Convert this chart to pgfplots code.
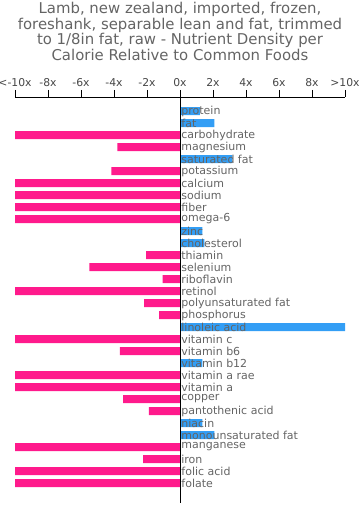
\documentclass[border=0pt]{standalone}
\usepackage{pgfplots}
\pgfplotsset{compat=1.18}
\usepackage{fontspec}
\setmainfont{DejaVu Sans}
\definecolor{negc}{RGB}{255,26,140}
\definecolor{posc}{RGB}{51,158,245}
\definecolor{txt}{RGB}{100,100,100}
\begin{document}
\begin{tikzpicture}[x=1pt,y=1pt]
\useasboundingbox (-15,-11) rectangle (345,503);
\node[align=center, text=txt, font=\fontsize{14.9}{15.7}\selectfont, anchor=north, inner sep=0pt] at (165,501)
{Lamb, new zealand, imported, frozen,\\foreshank, separable lean and fat, trimmed\\to 1/8in fat, raw - Nutrient Density per\\Calorie Relative to Common Foods};
\begin{axis}[at={(0pt,0pt)}, anchor=south west, scale only axis,
  width=330pt, height=406pt,
  xmin=-10, xmax=10, ymin=-1.167, ymax=32.667, y dir=reverse,
  axis on top,
  axis x line=top, axis y line=center,
  axis line style={-, black, line width=0.8pt},
  xtick={-10,-8,...,10},
  xticklabels={<-10x,-8x,-6x,-4x,-2x,0x,2x,4x,6x,8x,>10x},
  x tick style={black, line width=0.8pt},
  tick align=outside, major tick length=7pt,
  xticklabel style={font=\fontsize{10.8}{12}\selectfont, text=txt!70!black},
  ytick=\empty,
  xbar, bar width=8pt, bar shift=0pt,
  clip=false,
]
\addplot[draw=none, fill=negc] coordinates {
(-10,2) (-3.8,3) (-4.16,5) (-10,6) (-10,7) (-10,8) (-10,9)
(-2.06,12) (-5.5,13) (-1.05,14) (-10,15) (-2.18,16) (-1.27,17)
(-10,19) (-3.64,20) (-10,22) (-10,23) (-3.45,24) (-1.88,25)
(-10,28) (-2.24,29) (-10,30) (-10,31)};
\addplot[draw=none, fill=posc] coordinates {
(1.2,0) (2.08,1) (3.17,4) (1.35,10) (1.47,11) (10,18) (1.35,21) (1.35,26) (2.08,27)};
\addplot[only marks, mark=none, draw=none, nodes near coords, point meta=explicit symbolic,
  nodes near coords style={anchor=west, inner sep=0pt, xshift=1.2pt, font=\fontsize{11}{12}\selectfont, text=txt}]
  table[x=x, y=y, meta=label, col sep=comma, row sep=\\] {
x,y,label\\
0,0,protein\\
0,1,fat\\
0,2,carbohydrate\\
0,3,magnesium\\
0,4,saturated fat\\
0,5,potassium\\
0,6,calcium\\
0,7,sodium\\
0,8,fiber\\
0,9,omega-6\\
0,10,zinc\\
0,11,cholesterol\\
0,12,thiamin\\
0,13,selenium\\
0,14,riboflavin\\
0,15,retinol\\
0,16,polyunsaturated fat\\
0,17,phosphorus\\
0,18,linoleic acid\\
0,19,vitamin c\\
0,20,vitamin b6\\
0,21,vitamin b12\\
0,22,vitamin a rae\\
0,23,vitamin a\\
0,24,copper\\
0,25,pantothenic acid\\
0,26,niacin\\
0,27,monounsaturated fat\\
0,28,manganese\\
0,29,iron\\
0,30,folic acid\\
0,31,folate\\
};
\end{axis}
\end{tikzpicture}
\end{document}
